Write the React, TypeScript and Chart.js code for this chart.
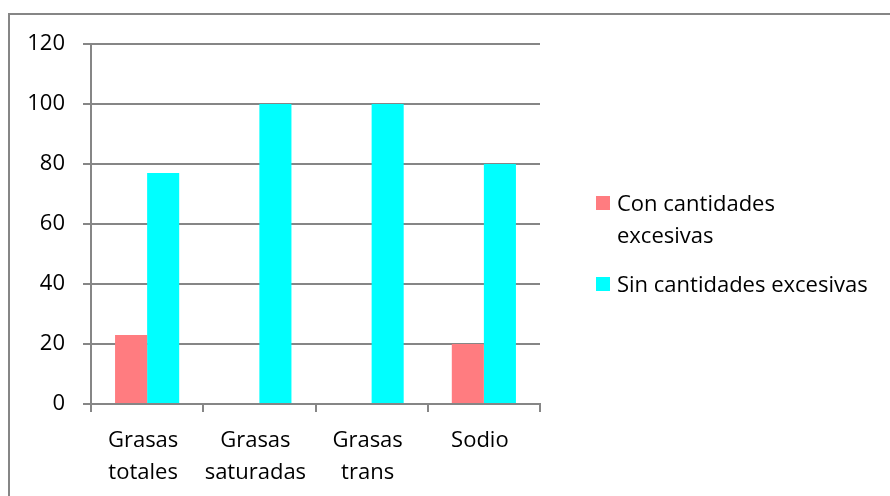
import React, { useEffect, useRef, useState } from "react";
import { Chart, registerables } from "chart.js";

Chart.register(...registerables);

const categories: (string | string[])[] = [
  ["Grasas", "totales"],
  ["Grasas", "saturadas"],
  ["Grasas", "trans"],
  "Sodio",
];
const seriesNames = ["Con cantidades excesivas", "Sin cantidades excesivas"];
const conExcesivas = [23, 0, 0, 20];
const sinExcesivas = [77, 100, 100, 80];
const seriesColors = ["#FF7C80", "#00FFFF"];
const yMin = 0;
const yMax = 120;
const yStep = 20;

const FONT = "'Open Sans', sans-serif";
const GRID = "#868686";
const FS = 22;

export default function App() {
  const ref = useRef<HTMLCanvasElement | null>(null);
  const [legendW, setLegendW] = useState(265);

  useEffect(() => {
    document.body.style.margin = "0";
    const ctx = ref.current!.getContext("2d")!;
    ctx.font = `${FS}px ${FONT}`;
    setLegendW(Math.ceil(ctx.measureText(seriesNames[1]).width) + 3);
    const chart = new Chart(ctx, {
      type: "bar",
      data: {
        labels: categories,
        datasets: [
          {
            label: seriesNames[0],
            data: conExcesivas,
            backgroundColor: seriesColors[0],
            categoryPercentage: 2 / 3.5,
            barPercentage: 1,
          },
          {
            label: seriesNames[1],
            data: sinExcesivas,
            backgroundColor: seriesColors[1],
            categoryPercentage: 2 / 3.5,
            barPercentage: 1,
          },
        ],
      },
      options: {
        animation: false,
        responsive: false,
        maintainAspectRatio: false,
        layout: { padding: { left: 0, right: 350, top: 44, bottom: 0 } },
        plugins: {
          legend: { display: false },
          tooltip: { enabled: false },
        },
        scales: {
          x: {
            offset: true,
            grid: {
              offset: true,
              drawOnChartArea: false,
              drawTicks: true,
              tickLength: 8,
              color: GRID,
              lineWidth: 2,
            },
            border: { display: true, color: GRID, width: 2 },
            ticks: {
              color: "#000",
              font: { family: FONT, size: FS, lineHeight: 32 / FS },
              padding: 13,
              labelOffset: -4,
              maxRotation: 0,
              autoSkip: false,
            },
            afterFit: (s: any) => {
              s.height = 92;
            },
          },
          y: {
            min: yMin,
            max: yMax,
            ticks: {
              stepSize: yStep,
              color: "#000",
              font: { family: FONT, size: FS },
              padding: 18,
            },
            grid: {
              color: GRID,
              lineWidth: 2,
              drawTicks: true,
              tickLength: 8,
            },
            border: { display: true, color: GRID, width: 2 },
            afterFit: (s: any) => {
              s.width = 91;
            },
          },
        },
      },
    });
    return () => chart.destroy();
  }, []);

  return (
    <div
      style={{
        position: "relative",
        width: 890,
        height: 496,
        overflow: "hidden",
        background: "#fff",
      }}
    >
      <div
        style={{
          position: "absolute",
          left: 8,
          top: 13,
          width: 1000,
          height: 1000,
          borderLeft: `2px solid ${GRID}`,
          borderTop: `2px solid ${GRID}`,
        }}
      />
      <canvas
        ref={ref}
        width={890}
        height={496}
        style={{ position: "absolute", left: 0, top: 0 }}
      />
      <div
        style={{
          position: "absolute",
          left: 596,
          top: 186,
          fontFamily: FONT,
          fontSize: FS,
          color: "#000",
        }}
      >
        {seriesNames.map((name, i) => (
          <div
            key={name}
            style={{
              display: "flex",
              alignItems: "flex-start",
              marginBottom: 17,
            }}
          >
            <div
              style={{
                width: 14,
                height: 14,
                background: seriesColors[i],
                marginTop: 10,
                marginRight: 7,
                flex: "none",
              }}
            />
            <div style={{ width: legendW, lineHeight: "32px" }}>{name}</div>
          </div>
        ))}
      </div>
    </div>
  );
}
